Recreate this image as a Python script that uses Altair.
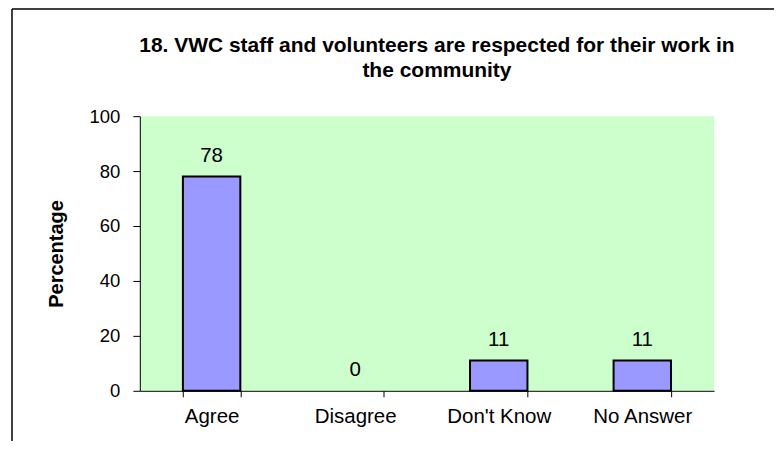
import altair as alt
import pandas as pd

categories = ["Agree", "Disagree", "Don't Know", "No Answer"]
values = [78, 0, 11, 11]
y_ticks = [0, 20, 40, 60, 80, 100]
title_lines = ["18. VWC staff and volunteers are respected for their work in", "the community"]

df = pd.DataFrame({"cat": categories, "val": values})
FONT = "Liberation Sans"

x_enc = alt.X("cat:N", sort=categories, title=None,
              scale=alt.Scale(paddingInner=0.6, paddingOuter=0.3),
              axis=alt.Axis(labelAngle=0, labelFontSize=20.5, labelColor="black", labelFont=FONT,
                            tickBand="extent", tickSize=6, tickColor="black", domainColor="black",
                            labelPadding=10, labelLimit=200))
y_enc = alt.Y("val:Q", title="Percentage",
              scale=alt.Scale(domain=[0, 100]),
              axis=alt.Axis(values=y_ticks, grid=False, labelFontSize=18.5, labelColor="black",
                            labelFont=FONT, tickSize=7, tickColor="black", domainColor="black",
                            labelPadding=13, titleFontSize=20, titleFont=FONT, titleFontWeight="bold",
                            titleColor="black", titleAngle=270, titleX=-83, titleY=137.5,
                            titleBaseline="middle", titleAlign="center"))

bars = alt.Chart(df).mark_bar(color="#9999FF", stroke="black", strokeWidth=2).encode(
    x=x_enc, y=y_enc,
    strokeOpacity=alt.condition("datum.val > 0", alt.value(1), alt.value(0)))
labels = alt.Chart(df).mark_text(fontSize=20.5, font=FONT, color="black", baseline="alphabetic", dy=-15).encode(
    x=alt.X("cat:N", sort=categories), y="val:Q", text="val:Q")

one = pd.DataFrame({"k": [0]})
title1 = alt.Chart(one).mark_text(fontSize=21, font=FONT, fontWeight="bold", color="black",
                                  baseline="alphabetic", align="center").encode(
    x=alt.value(297.5), y=alt.value(-64.3), text=alt.value(title_lines[0]))
title2 = alt.Chart(one).mark_text(fontSize=21, font=FONT, fontWeight="bold", color="black",
                                  baseline="alphabetic", align="center").encode(
    x=alt.value(297.5), y=alt.value(-39.3), text=alt.value(title_lines[1]))

top_rule = alt.Chart(one).mark_rule(color="black", strokeWidth=1.5).encode(
    x=alt.value(-128), x2=alt.value(700), y=alt.value(-107.2))
left_rule = alt.Chart(one).mark_rule(color="black", strokeWidth=1.5).encode(
    x=alt.value(-128), y=alt.value(-107.2), y2=alt.value(340))

chart = alt.layer(bars, labels, title1, title2, top_rule, left_rule).properties(
    width=575, height=275,
    autosize=alt.AutoSizeParams(type="none"),
    padding={"left": 132, "top": 108, "right": 60, "bottom": 50},
).configure_view(fill="#CCFFCC", stroke=None)

chart.save("out.html", embed_options={"renderer": "svg", "actions": False})
